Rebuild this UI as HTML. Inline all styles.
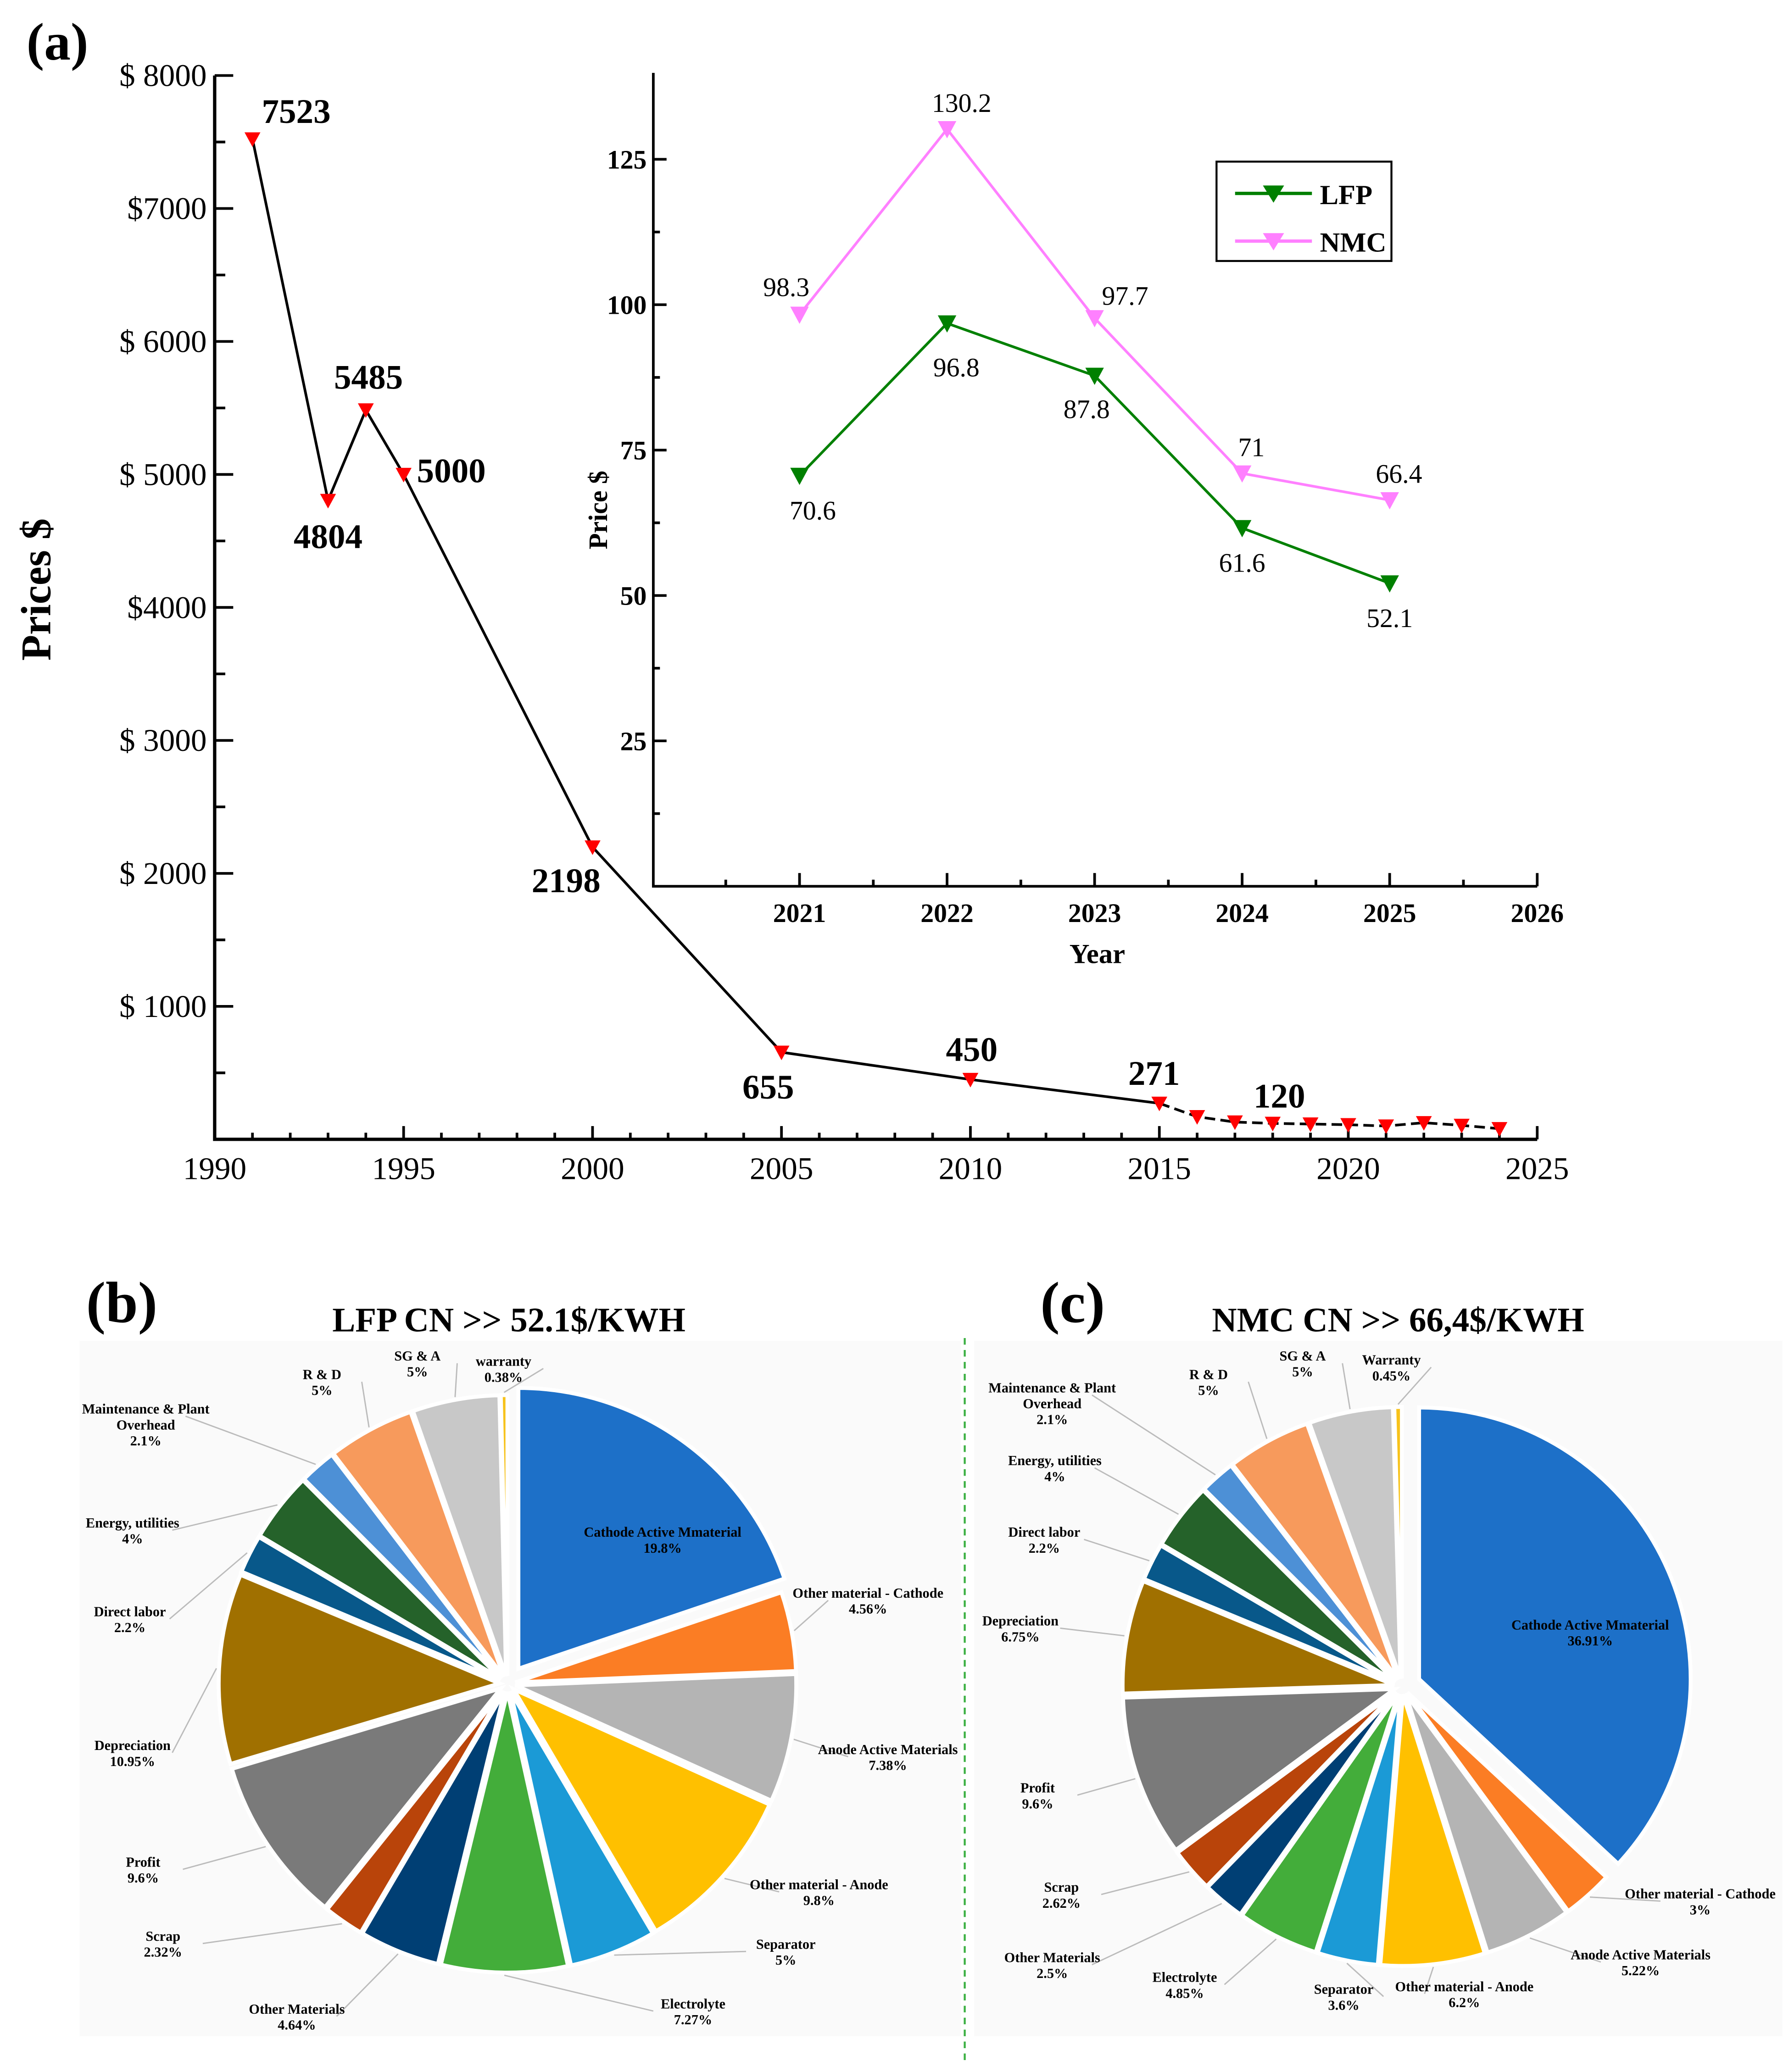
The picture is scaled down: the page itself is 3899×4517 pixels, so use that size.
<!DOCTYPE html>
<html><head><meta charset="utf-8">
<style>
html,body{margin:0;padding:0;background:#fff;}
svg{display:block;font-family:"Liberation Serif","DejaVu Serif",serif;}
</style></head>
<body>
<svg id="fig" width="3899" height="4517" viewBox="0 0 1350 1564" preserveAspectRatio="none" xmlns="http://www.w3.org/2000/svg">
<rect x="0" y="0" width="1350" height="1564" fill="#fff"/>
<text x="20" y="45" font-size="40" font-weight="bold">(a)</text>
<text transform="translate(38,445) rotate(-90)" text-anchor="middle" font-size="32" font-weight="bold">Prices $</text>
<text transform="translate(458,385) rotate(-90)" text-anchor="middle" font-size="20" font-weight="bold">Price $</text>
<text x="828" y="727" text-anchor="middle" font-size="21" font-weight="bold">Year</text>
<g>
<rect x="918" y="122" width="132" height="75" fill="#fff" stroke="#000" stroke-width="1.5"/>
<line x1="932" y1="146" x2="990" y2="146" stroke="#008000" stroke-width="2.5"/>
<path d="M953,140 L969,140 L961,153 Z" fill="#008000"/>
<text x="996" y="154" font-size="21" font-weight="bold">LFP</text>
<line x1="932" y1="182" x2="990" y2="182" stroke="#ff80ff" stroke-width="2.5"/>
<path d="M953,176 L969,176 L961,189 Z" fill="#ff80ff"/>
<text x="996" y="190" font-size="21" font-weight="bold">NMC</text>
</g>
<line x1="728" y1="1010" x2="728" y2="1556" stroke="#3cb043" stroke-width="1.5" stroke-dasharray="5,4"/>
<text x="65" y="998" font-size="44" font-weight="bold">(b)</text>
<text x="384" y="1005" text-anchor="middle" font-size="26" font-weight="bold">LFP CN &gt;&gt; 52.1$/KWH</text>
<text x="785" y="998" font-size="44" font-weight="bold">(c)</text>
<text x="1055" y="1005" text-anchor="middle" font-size="26" font-weight="bold">NMC CN &gt;&gt; 66,4$/KWH</text>
<rect x="60" y="1012" width="665" height="525" fill="#fafafa"/>
<rect x="735" y="1012" width="610" height="525" fill="#fafafa"/>
<g id="main"></g><g id="inset"></g><g id="pies"></g>
</svg>
<script>
// ---- main chart data ----
const mainYears=[1991,1993,1994,1995,2000,2005,2010,2015,2016,2017,2018,2019,2020,2021,2022,2023,2024];
const mainPrices=[7523,4804,5485,5000,2198,655,450,271,170,130,120,115,110,100,125,105,80];
const mainLabels=["7523","4804","5485","5000","2198","655","450","271","","","120","","","","","",""];
const mainYTicks=[1000,2000,3000,4000,5000,6000,7000,8000];
const mainYTickLabels=["$ 1000","$ 2000","$ 3000","$4000","$ 5000","$ 6000","$7000","$ 8000"];
const mainXTicks=[1990,1995,2000,2005,2010,2015,2020,2025];
// ---- inset data ----
const insetYears=[2021,2022,2023,2024,2025];
const lfpValues=[70.6,96.8,87.8,61.6,52.1];
const nmcValues=[98.3,130.2,97.7,71,66.4];
const insetYTicks=[25,50,75,100,125];
const insetXTicks=[2021,2022,2023,2024,2025,2026];
// ---- pie data ----
const pieBNames=["Cathode Active Mmaterial","Other material - Cathode","Anode Active Materials","Other material - Anode","Separator","Electrolyte","Other Materials","Scrap","Profit","Depreciation","Direct labor","Energy, utilities","Maintenance & Plant|Overhead","R & D","SG & A","warranty"];
const pieBValues=[19.8,4.56,7.38,9.8,5,7.27,4.64,2.32,9.6,10.95,2.2,4,2.1,5,5,0.38];
const pieCNames=["Cathode Active Mmaterial","Other material - Cathode","Anode Active Materials","Other material - Anode","Separator","Electrolyte","Other Materials","Scrap","Profit","Depreciation","Direct labor","Energy, utilities","Maintenance & Plant|Overhead","R & D","SG & A","Warranty"];
const pieCValues=[36.91,3,5.22,6.2,3.6,4.85,2.5,2.62,9.6,6.75,2.2,4,2.1,5,5,0.45];

const NS="http://www.w3.org/2000/svg";
function mk(parent,tag,attrs,text){const e=document.createElementNS(NS,tag);for(const k in attrs)e.setAttribute(k,attrs[k]);if(text!==undefined)e.textContent=text;parent.appendChild(e);return e;}

// main axes
const mx=y=>162+(y-1990)*(998/35);
const my=v=>860-v*(803/8000);
const gm=document.getElementById('main');
let ax=mk(gm,'path',{d:`M162,57 L162,860 L1160,860`,fill:'none',stroke:'#000','stroke-width':2.5});


for(let v=500;v<=8000;v+=500){mk(gm,'line',{x1:162,x2:v%1000===0?176:170,y1:my(v),y2:my(v),stroke:'#000','stroke-width':2});}
mainYTicks.forEach((v,i)=>{const t=mk(gm,'text',{x:156,y:my(v)+8,'text-anchor':'end','font-size':24},mainYTickLabels[i]);

});
for(let y=1990;y<=2025;y++){mk(gm,'line',{x1:mx(y),x2:mx(y),y1:860,y2:y%5===0?850:855,stroke:'#000','stroke-width':2});}
mainXTicks.forEach(y=>{const t=mk(gm,'text',{x:mx(y),y:890,'text-anchor':'middle','font-size':24},String(y));

});
let solid=[],dashed=[];
mainYears.forEach((y,i)=>{const p=`${mx(y)},${my(mainPrices[i])}`;if(y<=2015)solid.push(p);if(y>=2015)dashed.push(p);});
let l1=mk(gm,'polyline',{points:solid.join(' '),fill:'none',stroke:'#000','stroke-width':2});


let l2=mk(gm,'polyline',{points:dashed.join(' '),fill:'none',stroke:'#000','stroke-width':2,'stroke-dasharray':'8,4'});


const labOff=[[33,-12],[0,36],[2,-16],[36,6],[-20,34],[-10,35],[1,-14],[-4,-14],[0,0],[0,0],[5,-12]];
mainYears.forEach((y,i)=>{const x=mx(y),yy=my(mainPrices[i]);
const m=mk(gm,'path',{d:`M${x-6},${yy-5} L${x+6},${yy-5} L${x},${yy+6} Z`,fill:'#f00'});


if(mainLabels[i]){const o=labOff[i]||[0,-14];const t=mk(gm,'text',{x:x+o[0],y:yy+o[1],'text-anchor':'middle','font-size':26,'font-weight':'bold'},mainLabels[i]);

}});

// inset
const ix=y=>492+(y-2020)*(668/6);
const iy=v=>669-v*(439/100);
const gi=document.getElementById('inset');
let ia=mk(gi,'path',{d:`M493,55 L493,669 L1160,669`,fill:'none',stroke:'#000','stroke-width':2});


insetYTicks.forEach(v=>{mk(gi,'line',{x1:493,x2:503,y1:iy(v),y2:iy(v),stroke:'#000','stroke-width':2});
mk(gi,'line',{x1:493,x2:498,y1:iy(v-12.5),y2:iy(v-12.5),stroke:'#000','stroke-width':2});
const t=mk(gi,'text',{x:488,y:iy(v)+7,'text-anchor':'end','font-size':20,'font-weight':'bold'},String(v));

});
insetXTicks.forEach(y=>{mk(gi,'line',{x1:ix(y),x2:ix(y),y1:669,y2:659,stroke:'#000','stroke-width':2});
mk(gi,'line',{x1:ix(y-0.5),x2:ix(y-0.5),y1:669,y2:664,stroke:'#000','stroke-width':2});
const t=mk(gi,'text',{x:ix(y),y:696,'text-anchor':'middle','font-size':20,'font-weight':'bold'},String(y));

});
function series(vals,color,name,offs){
const pl=mk(gi,'polyline',{points:insetYears.map((y,i)=>`${ix(y)},${iy(vals[i])}`).join(' '),fill:'none',stroke:color,'stroke-width':2});


insetYears.forEach((y,i)=>{const x=ix(y),yy=iy(vals[i]);
const m=mk(gi,'path',{d:`M${x-7},${yy-6} L${x+7},${yy-6} L${x},${yy+7} Z`,fill:color});


const t=mk(gi,'text',{x:x+offs[i][0],y:yy+offs[i][1],'text-anchor':'middle','font-size':20},String(vals[i]));

});}
series(nmcValues,'#ff80ff','nmc',[[-10,-14],[11,-13],[23,-10],[7,-13],[7,-13]]);
series(lfpValues,'#008000','lfp',[[10,33],[7,40],[-6,32],[0,33],[0,33]]);

// pies
const pieColors=["#1d70c8","#fb7d24","#b4b4b4","#ffc000","#1b9ad6","#43ad3a","#003f74","#b9440a","#7a7a7a","#a07000","#08588a","#25622a","#4d90d6","#f79a5c","#c8c8c8","#f7c21a"];
const bLabelPos=[[500,1160],[655,1206],[670,1324],[618,1426],[593,1471],[523,1516],[224,1520],[123,1465],[108,1409],[100,1321],[98,1220],[100,1153],[110,1067],[243,1041],[315,1027],[380,1031]];
const cLabelPos=[[1200,1230],[1283,1433],[1238,1479],[1105,1503],[1014,1505],[894,1496],[794,1481],[801,1428],[783,1353],[770,1227],[788,1160],[796,1106],[794,1051],[912,1041],[983,1027],[1050,1030]];
const gp=document.getElementById('pies');
function pie(names,vals,cx,cy,r,lpos,name){
const tot=vals.reduce((a,b)=>a+b,0);let a0=-Math.PI/2;
vals.forEach((v,i)=>{const a1=a0+v/tot*2*Math.PI,am=(a0+a1)/2;const ex=i===0?14:6;
const ox=cx+ex*Math.cos(am),oy=cy+ex*Math.sin(am);
const large=(a1-a0)>Math.PI?1:0;
const d=`M${ox},${oy} L${ox+r*Math.cos(a0)},${oy+r*Math.sin(a0)} A${r},${r} 0 ${large} 1 ${ox+r*Math.cos(a1)},${oy+r*Math.sin(a1)} Z`;
const s=mk(gp,'path',{d,fill:pieColors[i],stroke:'#fff','stroke-width':3});


const [lx,ly]=lpos[i];
if(i>0){const ex2=ox+(r+2)*Math.cos(am),ey2=oy+(r+2)*Math.sin(am);
const endx=lx<cx?lx+30:lx-30;
mk(gp,'line',{x1:ex2,y1:ey2,x2:endx,y2:ly+2,stroke:'#bbb','stroke-width':1});}
const parts=names[i].split('|');parts.push(String(v)+'%');
parts.forEach((p,j)=>{const t=mk(gp,'text',{x:lx,y:ly+j*12,'text-anchor':'middle','font-size':10.5,'font-weight':'bold'},p);

});
a0=a1;});}
pie(pieBNames,pieBValues,383,1271,212,bLabelPos,'pie-b');
pie(pieCNames,pieCValues,1058,1273,205,cLabelPos,'pie-c');
</script>
</body></html>
